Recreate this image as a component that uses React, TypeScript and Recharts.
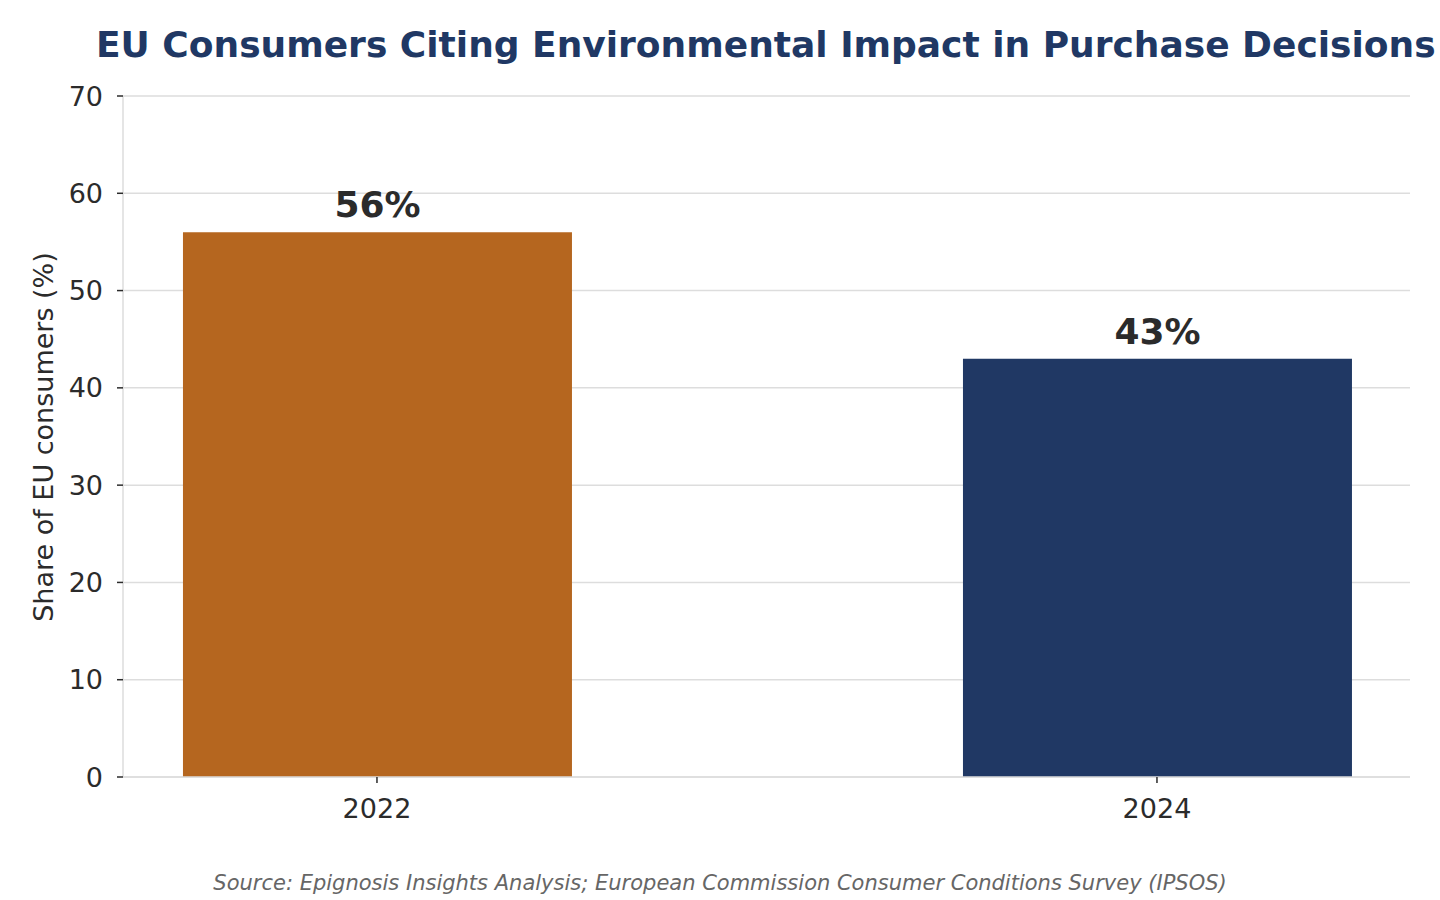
import React from 'react';
import { BarChart, Bar, XAxis, YAxis, CartesianGrid, Cell, LabelList } from 'recharts';

// Share of EU consumers citing environmental impact (%)
const years = ['2022', '2024'];
const shares = [56, 43];
const barColors = ['#B5661F', '#203864'];
const yTicks = [0, 10, 20, 30, 40, 50, 60, 70];

const FONT = '"DejaVu Sans", sans-serif';

const data = years.map((year, i) => ({ pos: i, year, share: shares[i] }));

export default function App() {
  return (
    <div style={{ position: 'absolute', left: 0, top: 0, width: 1440, height: 900, background: '#fff', fontFamily: FONT }}>
      <div
        style={{
          position: 'absolute',
          left: 96,
          top: 24,
          fontSize: 36,
          lineHeight: 'normal',
          fontWeight: 'bold',
          color: '#203864',
          whiteSpace: 'nowrap',
        }}
      >
        EU Consumers Citing Environmental Impact in Purchase Decisions
      </div>

      <div style={{ position: 'absolute', left: 0, top: 0 }}>
        <BarChart width={1440} height={900} data={data} margin={{ top: 96, right: 30, bottom: 93, left: 43 }}>
          <CartesianGrid vertical={false} stroke="#dddddd" strokeWidth={1.5} />
          <XAxis
            dataKey="pos"
            type="number"
            height={30}
            domain={[-0.3256, 1.3244]}
            ticks={[0, 1]}
            allowDataOverflow
            tickFormatter={(v) => years[v] ?? ''}
            axisLine={{ stroke: '#dddddd', strokeWidth: 1.5 }}
            tickLine={{ stroke: '#2b2b2b', strokeWidth: 1.5 }}
            tickSize={6}
            tickMargin={16}
            tick={{ fill: '#2b2b2b', fontSize: 27, fontFamily: FONT }}
          />
          <YAxis
            width={80}
            domain={[0, 70]}
            ticks={yTicks}
            axisLine={{ stroke: '#dddddd', strokeWidth: 1.5 }}
            tickLine={{ stroke: '#2b2b2b', strokeWidth: 1.5 }}
            tickSize={6}
            tickMargin={14}
            tick={{ fill: '#2b2b2b', fontSize: 27, fontFamily: FONT }}
          />
          <Bar dataKey="share" barSize={389} isAnimationActive={false}>
            {data.map((d, i) => (
              <Cell key={d.year} fill={barColors[i]} />
            ))}
            <LabelList
              dataKey="share"
              position="top"
              offset={15}
              formatter={(v) => `${v}%`}
              style={{ fill: '#2b2b2b', fontSize: 36, fontWeight: 'bold', fontFamily: FONT }}
            />
          </Bar>
        </BarChart>
      </div>

      <div
        style={{
          position: 'absolute',
          left: 43,
          top: 437,
          transform: 'translate(-50%, -50%) rotate(-90deg)',
          fontSize: 27,
          color: '#2b2b2b',
          whiteSpace: 'nowrap',
        }}
      >
        Share of EU consumers (%)
      </div>

      <div
        style={{
          position: 'absolute',
          left: 0,
          width: 1440,
          top: 871,
          textAlign: 'center',
          fontSize: 21,
          fontStyle: 'italic',
          color: '#666666',
        }}
      >
        Source: Epignosis Insights Analysis; European Commission Consumer Conditions Survey (IPSOS)
      </div>
    </div>
  );
}
